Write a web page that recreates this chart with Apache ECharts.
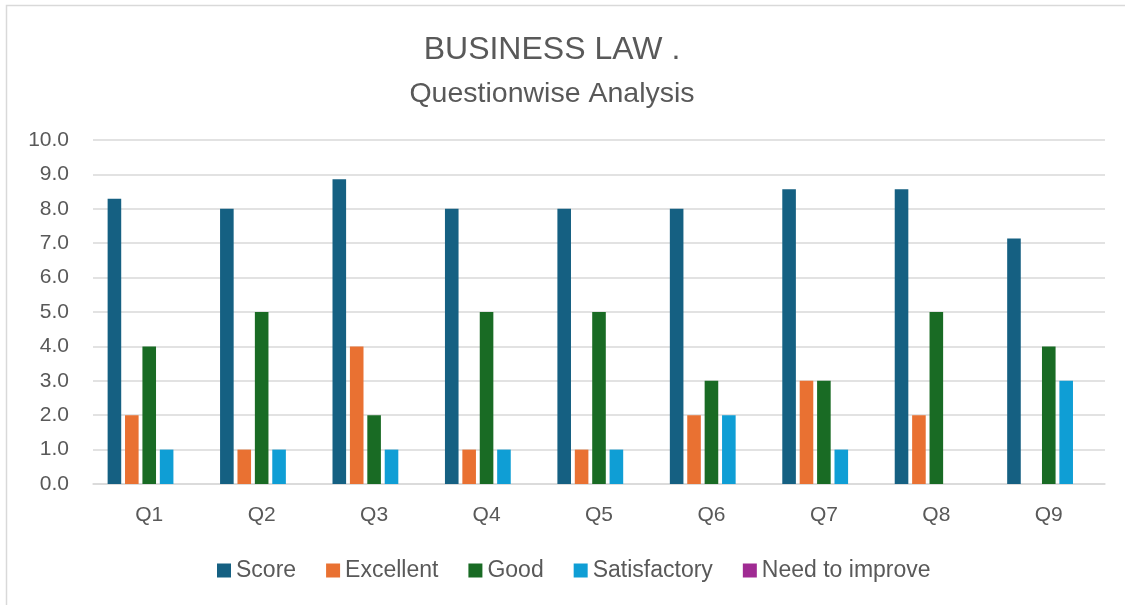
<!DOCTYPE html>
<html>
<head>
<meta charset="utf-8">
<script src="https://cdn.jsdelivr.net/npm/echarts@6/dist/echarts.min.js"></script>
<style>
html,body{margin:0;padding:0;background:#fff;}
#chart{width:1125px;height:605px;}
</style>
</head>
<body>
<div id="chart"></div>
<script>
const titleText = 'BUSINESS LAW .';
const subtitleText = 'Questionwise Analysis';
const categories = ['Q1','Q2','Q3','Q4','Q5','Q6','Q7','Q8','Q9'];
const seriesNames = ['Score','Excellent','Good','Satisfactory','Need to improve'];
const score = [8.29, 8.0, 8.86, 8.0, 8.0, 8.0, 8.57, 8.57, 7.14];
const excellent = [2, 1, 4, 1, 1, 2, 3, 2, 0];
const good = [4, 5, 2, 5, 5, 3, 3, 5, 4];
const satisfactory = [1, 1, 1, 1, 1, 2, 1, 0, 3];
const needToImprove = [0, 0, 0, 0, 0, 0, 0, 0, 0];
const colors = ['#156082','#E97132','#196B24','#0F9ED5','#A02B93'];

const FONT = '"Liberation Sans", Arial, sans-serif';
const TXT = '#595959';
const chart = echarts.init(document.getElementById('chart'), null, {renderer:'canvas'});
const allData = [score, excellent, good, satisfactory, needToImprove];

chart.setOption({
  animation: false,
  color: colors,
  textStyle: {fontFamily: FONT},
  graphic: [{
    type: 'rect', left: 4, top: 3, z: -1,
    shape: {width: 1300, height: 800},
    style: {fill: 'none', stroke: '#d9d9d9', lineWidth: 1.5}
  }],
  title: [
    {text: titleText, left: 547, textAlign: 'center', top: 29,
     textStyle: {fontFamily: FONT, fontSize: 32, fontWeight: 'normal', color: TXT}},
    {text: subtitleText, left: 547, textAlign: 'center', top: 75,
     textStyle: {fontFamily: FONT, fontSize: 28.5, fontWeight: 'normal', color: TXT}}
  ],
  legend: {
    data: seriesNames,
    left: 212, top: 554,
    itemWidth: 14, itemHeight: 14, itemGap: 30,
    icon: 'rect',
    textStyle: {fontFamily: FONT, fontSize: 23, color: TXT}
  },
  grid: {left: 93, right: 20, top: 140, bottom: 121, containLabel: false},
  xAxis: {
    type: 'category', data: categories,
    axisLine: {show: true, lineStyle: {color: '#d9d9d9', width: 1.5}},
    axisTick: {show: false},
    axisLabel: {fontFamily: FONT, fontSize: 21, color: TXT, margin: 21}
  },
  yAxis: {
    type: 'value', min: 0, max: 10, interval: 1,
    axisLine: {show: false}, axisTick: {show: false},
    splitLine: {lineStyle: {color: '#d9d9d9', width: 1.5}},
    axisLabel: {fontFamily: FONT, fontSize: 21, color: TXT, margin: 24,
      formatter: v => v.toFixed(1)}
  },
  series: seriesNames.map((n, i) => ({
    name: n, type: 'bar', data: allData[i],
    barGap: '28%', barCategoryGap: '26%'
  }))
});
</script>
</body>
</html>
